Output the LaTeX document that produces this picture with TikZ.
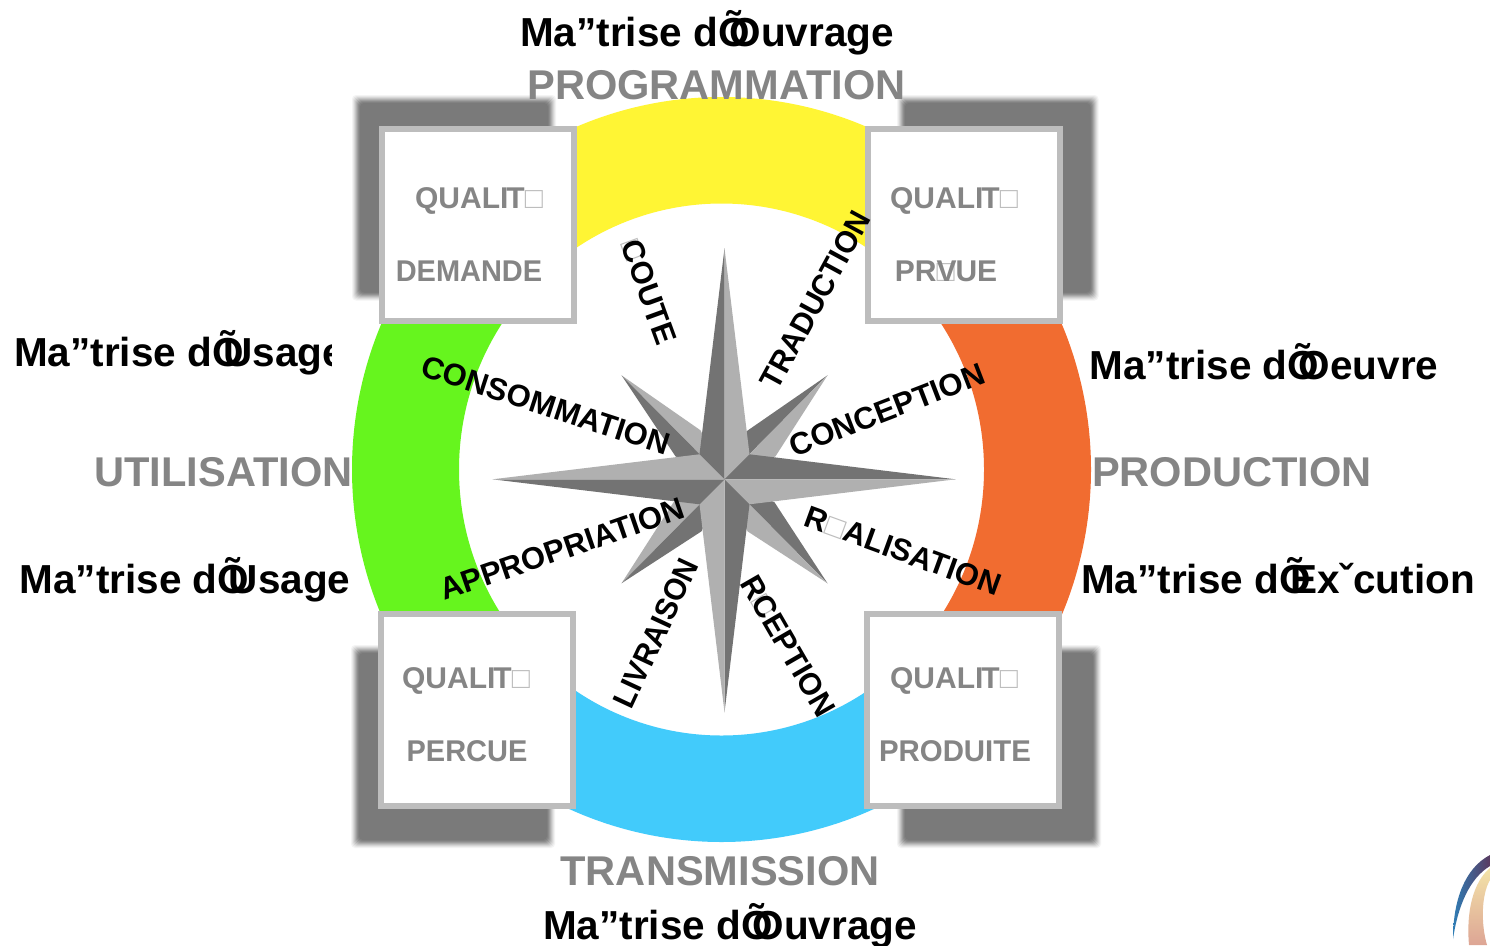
\documentclass[tikz,border=0pt]{standalone}
\usepackage{fontspec}
\setmainfont{Liberation Sans}
\definecolor{shad}{HTML}{7A7A7A}
\definecolor{frameg}{HTML}{BDBDBD}
\definecolor{txtg}{HTML}{858585}
\definecolor{stard}{HTML}{737373}
\definecolor{starl}{HTML}{B0B0B0}
\definecolor{ringy}{HTML}{FFF534}
\definecolor{ringg}{HTML}{66F51E}
\definecolor{ringo}{HTML}{F16C30}
\definecolor{ringb}{HTML}{42CBFB}
\definecolor{logob}{HTML}{2F7DB5}
\definecolor{logop}{HTML}{5A3A60}
\definecolor{logoc}{HTML}{F3E3A8}
\definecolor{logor}{HTML}{DDA595}
\newcommand{\ov}[1]{\makebox[.278em][l]{Õ}#1}
\newcommand{\zb}{\makebox[0pt][l]{\textcolor{frameg}{\normalfont□}}}
\newcommand{\softshadow}[4]{%
  \foreach \d/\c in {5/8,4/18,3/30,2/44,1/58,0/72,-1/85,-2/94,-3/100}{%
    \fill[shad!\c,rounded corners=4pt] (#1-\d,#2-\d) rectangle (#3+\d,#4+\d);}}
\newcommand{\ringpart}[3]{\fill[#1]
  ({721.5+369.5*cos(#2)},{469.5+372.5*sin(#2)})
  arc[start angle=#2,end angle=#3,x radius=369.5,y radius=372.5]
  -- ({721.5+262.5*cos(#3)},{469.5+266*sin(#3)})
  arc[start angle=#3,end angle=#2,x radius=262.5,y radius=266] -- cycle;}
\tikzset{
  heading/.style={font=\bfseries\fontsize{40.5}{46}\selectfont,text=black,inner sep=0pt,anchor=base},
  phase/.style={font=\bfseries\fontsize{41.6}{46}\selectfont,text=txtg,inner sep=0pt,anchor=base},
  qualbox/.style={draw=frameg,line width=6pt,fill=white,minimum width=192pt,minimum height=192pt,inner sep=0pt},
  qualtext/.style={font=\bfseries\fontsize{30}{34}\selectfont,text=txtg,inner sep=0pt,anchor=base},
  arm/.style={font=\bfseries\fontsize{31}{34}\selectfont,text=black,inner sep=0pt}
}
\begin{document}
\begin{tikzpicture}[x=1pt,y=-1pt]
\useasboundingbox (0,0) rectangle (1490,945);
\fill[white] (0,0) rectangle (1490,945);
% shadows
\softshadow{357}{100}{551}{295.5}
\softshadow{902}{100}{1093.5}{295.5}
\softshadow{356}{650}{550}{843}
\softshadow{902}{650}{1096}{843}
% ring
\ringpart{ringb}{45}{135}
\ringpart{ringg}{135}{225}
\ringpart{ringy}{225}{315}
\ringpart{ringo}{-45}{45}
% compass star
\coordinate (c) at (724.5,479.3);
\begin{scope}[shift={(c)}]
 \fill[starl] (-103,-104) -- (-24,-49) -- (0,0) -- cycle;
 \fill[stard] (-103,-104) -- (-49,-23) -- (0,0) -- cycle;
 \fill[stard] (103,-104) -- (22,-48) -- (0,0) -- cycle;
 \fill[starl] (103,-104) -- (51,-23) -- (0,0) -- cycle;
 \fill[stard] (103,104) -- (50,23) -- (0,0) -- cycle;
 \fill[starl] (103,104) -- (23,52) -- (0,0) -- cycle;
 \fill[starl] (-103,104) -- (-51,23) -- (0,0) -- cycle;
 \fill[stard] (-103,104) -- (-23,52) -- (0,0) -- cycle;
 \fill[stard] (0,-231) -- (-25,-25) -- (0,0) -- cycle;
 \fill[starl] (0,-231) -- (25,-25) -- (0,0) -- cycle;
 \fill[stard] (231,0) -- (25,-25) -- (0,0) -- cycle;
 \fill[starl] (231,0) -- (25,25) -- (0,0) -- cycle;
 \fill[stard] (0,233) -- (25,25) -- (0,0) -- cycle;
 \fill[starl] (0,233) -- (-25,25) -- (0,0) -- cycle;
 \fill[stard] (-232,0) -- (-25,25) -- (0,0) -- cycle;
 \fill[starl] (-232,0) -- (-25,-25) -- (0,0) -- cycle;
\end{scope}
% boxes
\node[qualbox] (tl) at (478,224.5) {};
\node[qualbox] (tr) at (964,224.5) {};
\node[qualbox] (bl) at (477,710) {};
\node[qualbox] (br) at (963,710) {};
\node[qualtext] (tl1) at (479,208) {QUALI\kern-2ptT\textcolor{frameg}{\normalfont□}};
\node[qualtext] (tl2) at (469,281) {\scalebox{.965}[1]{DEMANDE}};
\node[qualtext] (tr1) at (954,208) {QUALI\kern-2ptT\textcolor{frameg}{\normalfont□}};
\node[qualtext] (tr2) at (946,281) {PR\zb V\kern-1ptUE};
\node[qualtext] (bl1) at (466,688) {QUALI\kern-2ptT\textcolor{frameg}{\normalfont□}};
\node[qualtext] (bl2) at (467,761) {\scalebox{.965}[1]{PERCUE}};
\node[qualtext] (br1) at (954,688) {QUALI\kern-2ptT\textcolor{frameg}{\normalfont□}};
\node[qualtext] (br2) at (955,761) {\scalebox{.98}[1]{PRODUITE}};
% arm labels
\node[arm,rotate=-70] (ecoute) at (649,292) {\zb COUTE};
\node[arm,rotate=61.5] (trad) at (815.5,300) {\scalebox{.96}[1]{TRADUCTION}};
\node[arm,rotate=-18] (cons) at (546,405) {CONSOMMATION};
\node[arm,rotate=21] (conc) at (887,410) {CONCEPTION};
\node[arm,rotate=19] (appr) at (562,549) {APPROPRIATION};
\node[arm,rotate=-20] (real) at (903,551) {R\textcolor{frameg}{\normalfont□}ALISATION};
\node[arm,rotate=65] (livr) at (656,633) {\scalebox{.95}[1]{LIVRAISON}};
\node[arm,rotate=-60] (recp) at (788,646) {\scalebox{.98}[1]{R\zb CEPTION}};
% phases
\node[phase] (prog) at (716.5,99) {PROGRAMMATION};
\node[phase] (util) at (223.5,486) {UTILISATION};
\node[phase] (prod) at (1232,486) {PRODUCTION};
\node[phase] (tran) at (720,885) {TRANSMISSION};
% headings
\node[heading] (h1) at (707,46) {Ma”trise d\ov{O}uvrage};
\begin{scope}
 \clip (0,320) rectangle (331,390);
 \node[heading,anchor=base west] (h2) at (14,366) {Ma”trise d\ov{U}sage};
\end{scope}
\node[heading] (h3) at (185,593) {Ma”trise d\ov{U}sage};
\node[heading] (h4) at (1264,379) {Ma”trise d\ov{O}euvre};
\node[heading] (h5) at (1278,593) {Ma”trise d\ov{E}xˇcution};
\node[heading] (h6) at (730,939) {Ma”trise d\ov{O}uvrage};
% corner fragment
\shade[left color=logob,right color=logop]
  (1453,939) .. controls (1453,900) and (1465,868) .. (1490,855) -- (1490,866)
  .. controls (1470,878) and (1458,905) .. cycle;
\shade[top color=logoc,bottom color=logor]
  (1490,868) .. controls (1473,882) and (1466,912) .. (1469,945) -- (1487,945)
  .. controls (1481,925) and (1481,895) .. (1490,880) -- cycle;
\end{tikzpicture}
\end{document}
